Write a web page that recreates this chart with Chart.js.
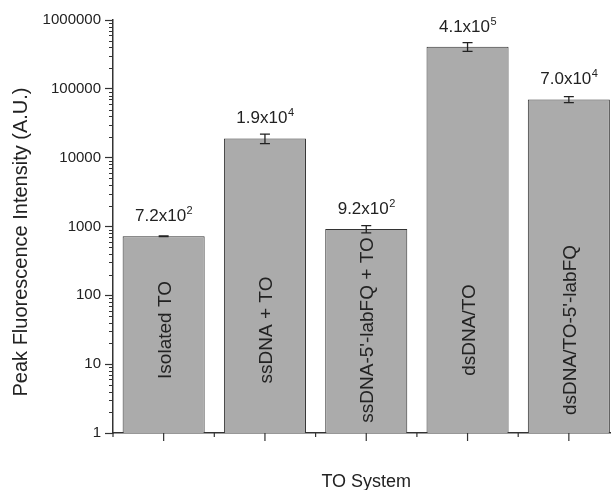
<!DOCTYPE html>
<html>
<head>
<meta charset="utf-8">
<script src="https://cdn.jsdelivr.net/npm/chart.js@4/dist/chart.umd.min.js"></script>
<style>
  html, body { margin: 0; padding: 0; background: #fff; overflow: hidden; }
  #chartContainer { position: relative; width: 625px; height: 490px; }
</style>
</head>
<body>
<div id="chartContainer"><canvas id="chartCanvas" width="625" height="490"></canvas></div>
<script>
const categories = ['Isolated TO', 'ssDNA + TO', "ssDNA-5'-labFQ + TO", 'dsDNA/TO', "dsDNA/TO-5'-labFQ"];
const intensity = [720, 19000, 920, 410000, 70000];
const intensityErr = [8, 3000, 110, 60000, 7000];
const labelMantissa = ['7.2', '1.9', '9.2', '4.1', '7.0'];
const labelExponent = ['2', '4', '2', '5', '4'];
const yTicks = [1, 10, 100, 1000, 10000, 100000, 1000000];
const xTitle = 'TO System';
const yTitle = 'Peak Fluorescence Intensity (A.U.)';

const FONT = "'Liberation Sans', Arial, sans-serif";
const INK = '#222';
const AXIS = '#333';

// error bars, labels, extra ticks and axis titles
const annotate = {
    id: 'annotate',
    afterDatasetsDraw(chart) {
        const ctx = chart.ctx;
        const x = chart.scales.x;
        const y = chart.scales.y;
        const area = chart.chartArea;
        const bars = chart.getDatasetMeta(0).data;
        ctx.save();

        // minor log ticks on the y axis
        ctx.strokeStyle = AXIS;
        ctx.lineWidth = 1;
        ctx.beginPath();
        for (let i = 0; i < yTicks.length - 1; i++) {
            for (let m = 2; m <= 9; m++) {
                const py = Math.round(y.getPixelForValue(yTicks[i] * m)) + 0.5;
                ctx.moveTo(area.left - 4, py);
                ctx.lineTo(area.left, py);
            }
        }
        ctx.stroke();

        // x ticks: long at centres, short at category edges
        const centres = categories.map((c, i) => x.getPixelForValue(i));
        const half = (centres[1] - centres[0]) / 2;
        ctx.lineWidth = 1.2;
        ctx.beginPath();
        centres.forEach((cx) => {
            ctx.moveTo(cx, area.bottom);
            ctx.lineTo(cx, area.bottom + 8);
        });
        for (let i = 0; i <= centres.length; i++) {
            const bx = (i < centres.length ? centres[i] : centres[i - 1] + 2 * half) - half;
            ctx.moveTo(bx, area.bottom);
            ctx.lineTo(bx, area.bottom + 4);
        }
        ctx.stroke();

        // error bars
        ctx.strokeStyle = INK;
        ctx.lineWidth = 1.3;
        bars.forEach((bar, i) => {
            const top = y.getPixelForValue(intensity[i] + intensityErr[i]);
            const bot = y.getPixelForValue(intensity[i] - intensityErr[i]);
            ctx.beginPath();
            ctx.moveTo(bar.x, top);
            ctx.lineTo(bar.x, bot);
            ctx.moveTo(bar.x - 5, top);
            ctx.lineTo(bar.x + 5, top);
            ctx.moveTo(bar.x - 5, bot);
            ctx.lineTo(bar.x + 5, bot);
            ctx.stroke();
        });

        // value labels with superscript exponent
        ctx.fillStyle = INK;
        ctx.textBaseline = 'alphabetic';
        ctx.textAlign = 'left';
        bars.forEach((bar, i) => {
            const main = labelMantissa[i] + 'x10';
            ctx.font = '17px ' + FONT;
            const w1 = ctx.measureText(main).width;
            ctx.font = '11px ' + FONT;
            const w2 = ctx.measureText(labelExponent[i]).width;
            const start = bar.x - (w1 + w2) / 2;
            const base = bar.y - 15;
            ctx.font = '17px ' + FONT;
            ctx.fillText(main, start, base);
            ctx.font = '11px ' + FONT;
            ctx.fillText(labelExponent[i], start + w1 + 0.5, base - 7);
        });

        // category names inside the bars
        ctx.font = '19px ' + FONT;
        ctx.textAlign = 'center';
        ctx.textBaseline = 'middle';
        bars.forEach((bar, i) => {
            ctx.save();
            ctx.translate(bar.x + 2, area.bottom - 103);
            ctx.rotate(-Math.PI / 2);
            ctx.fillText(categories[i], 0, 0);
            ctx.restore();
        });

        // axis titles
        ctx.font = '18px ' + FONT;
        ctx.fillText(xTitle, (x.left + x.right) / 2, 482);
        ctx.save();
        ctx.font = '20px ' + FONT;
        ctx.translate(21, 242);
        ctx.rotate(-Math.PI / 2);
        ctx.fillText(yTitle, 0, 0);
        ctx.restore();

        ctx.restore();
    }
};

const canvas = document.getElementById('chartCanvas');
new Chart(canvas.getContext('2d'), {
    type: 'bar',
    data: {
        labels: categories,
        datasets: [{
            data: intensity,
            backgroundColor: '#ababab',
            borderColor: AXIS,
            borderWidth: 1,
            barPercentage: 0.9,
            categoryPercentage: 0.9
        }]
    },
    options: {
        responsive: false,
        animation: false,
        devicePixelRatio: 1,
        layout: { padding: { top: 20, right: 5.5, left: 0, bottom: 0 } },
        plugins: {
            legend: { display: false },
            tooltip: { enabled: false }
        },
        scales: {
            x: {
                offset: true,
                grid: { display: false },
                border: { display: true, color: AXIS, width: 1.5 },
                ticks: { display: false },
                afterFit: (scale) => { scale.height = 57; }
            },
            y: {
                type: 'logarithmic',
                min: 1,
                max: 1000000,
                grid: {
                    display: true,
                    drawOnChartArea: false,
                    drawTicks: true,
                    tickLength: 8,
                    tickColor: AXIS,
                    tickWidth: 1.2
                },
                border: { display: true, color: AXIS, width: 1.5 },
                ticks: {
                    padding: 4,
                    color: INK,
                    font: { family: FONT, size: 15 },
                    callback: (v) => String(v)
                },
                afterBuildTicks: (scale) => {
                    scale.ticks = yTicks.map((v) => ({ value: v }));
                },
                afterFit: (scale) => { scale.width = 113; }
            }
        }
    },
    plugins: [annotate]
});
</script>
</body>
</html>
